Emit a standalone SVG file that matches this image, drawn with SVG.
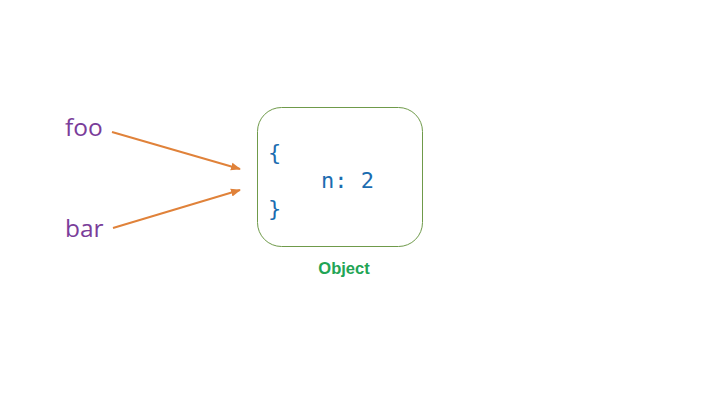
<svg xmlns="http://www.w3.org/2000/svg" width="720" height="405" viewBox="0 0 720 405">
<defs>
<style>
.var{font-family:"Open Sans","Noto Sans",sans-serif;font-size:24.5px;fill:#7a3d9a}
.code{font-family:"DejaVu Sans Mono","Liberation Mono",monospace;font-size:22px;fill:#1b6cb0}
.lbl{font-family:"Liberation Sans",Arial,sans-serif;font-size:16.5px;font-weight:bold;fill:#22a455}
.conn{stroke:#e0823a;stroke-width:2;fill:none}
</style>
<marker id="ah" viewBox="0 0 10 10" refX="9" refY="5" markerWidth="5" markerHeight="5" orient="auto">
<path d="M0,1 L10,5 L0,9 Z" fill="#e0823a"/>
</marker>
</defs>
<rect width="720" height="405" fill="#ffffff"/>
<g id="foo"><text class="var" x="65" y="136">foo</text></g>
<g id="bar"><text class="var" x="65" y="237">bar</text></g>
<g id="object">
<rect x="257.5" y="107.5" width="165" height="139" rx="24" fill="none" stroke="#6f9a4a" stroke-width="1"/>
<text class="code" x="268" y="160">{</text>
<text class="code" x="321" y="188">n: 2</text>
<text class="code" x="268" y="216">}</text>
<text class="lbl" x="344" y="274" text-anchor="middle">Object</text>
</g>
<g id="connectors">
<line class="conn" x1="112" y1="132" x2="240" y2="169" marker-end="url(#ah)"/>
<line class="conn" x1="113" y1="228" x2="240" y2="190" marker-end="url(#ah)"/>
</g>
</svg>
